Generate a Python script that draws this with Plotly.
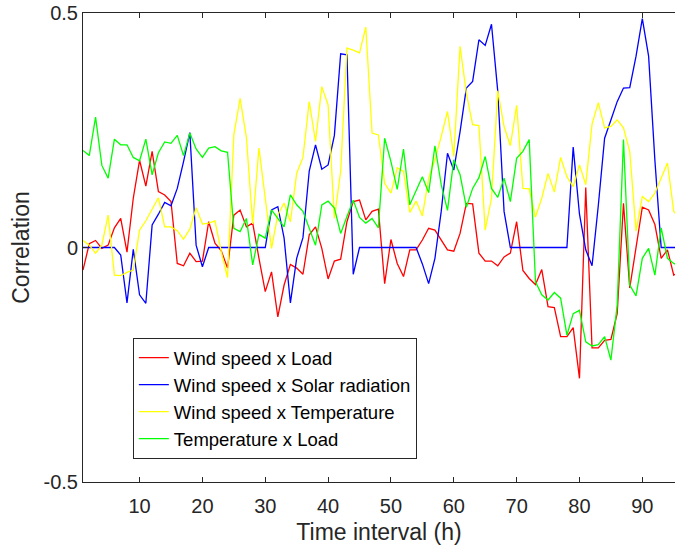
import plotly.graph_objects as go

hours = list(range(1, 97))

wind_load = [
    -0.048, 0.008, 0.015, -0.002, 0.005, 0.042, 0.062, -0.010, 0.105, 0.186,
    0.131, 0.205, 0.119, 0.112, 0.098, -0.034, -0.039, -0.012, -0.030, -0.029,
    0.055, 0.009, -0.007, -0.044, 0.069, 0.080, 0.044, 0.052, -0.023, -0.094,
    -0.052, -0.148, -0.080, -0.036, -0.044, -0.057, 0.027, 0.044, -0.002, -0.067,
    -0.029, -0.025, 0.055, 0.098, 0.101, 0.059, 0.077, 0.082, -0.077, 0.017,
    -0.034, -0.062, -0.005, -0.005, 0.016, 0.041, 0.037, 0.016, -0.005, -0.008,
    0.030, 0.094, 0.093, -0.012, -0.029, -0.029, -0.039, -0.020, -0.012, 0.055,
    -0.049, -0.066, -0.079, -0.047, -0.126, -0.128, -0.190, -0.190, -0.171, -0.279,
    0.128, -0.214, -0.214, -0.198, -0.196, -0.141, 0.094, -0.086, 0.005, 0.086,
    0.080, 0.049, -0.023, -0.005, -0.059, -0.050,
]

wind_solar = [
    0.0, 0.0, 0.0, 0.0, 0.0, 0.0, -0.016, -0.118, -0.004, -0.101,
    -0.119, 0.048, 0.071, 0.096, 0.089, 0.126, 0.183, 0.245, 0.005, -0.041,
    0.0, 0.0, 0.0, 0.0, 0.0, 0.0, 0.0, 0.0, 0.0, 0.0,
    0.080, 0.087, 0.020, -0.118, -0.023, 0.021, 0.163, 0.219, 0.167, 0.176,
    0.239, 0.413, 0.411, -0.057, 0.0, 0.0, 0.0, 0.0, 0.0, 0.0,
    0.0, 0.0, 0.0, 0.0, -0.035, -0.077, -0.023, 0.077, 0.201, 0.165,
    0.247, 0.340, 0.354, 0.443, 0.431, 0.476, 0.333, 0.077, 0.0, 0.0,
    0.0, 0.0, 0.0, 0.0, 0.0, 0.0, 0.0, 0.0, 0.214, 0.071,
    -0.005, -0.039, 0.090, 0.233, 0.272, 0.311, 0.340, 0.341, 0.408, 0.488,
    0.408, 0.186, 0.0, 0.0, 0.0, 0.0,
]

wind_temp = [
    0.015, 0.005, -0.012, 0.005, 0.069, -0.059, -0.060, -0.053, -0.048, 0.037,
    0.057, 0.082, 0.106, 0.044, 0.044, 0.036, 0.018, 0.039, 0.085, 0.050,
    0.052, 0.057, -0.009, -0.064, 0.240, 0.318, 0.235, 0.050, 0.212, 0.105,
    -0.002, 0.070, 0.095, 0.055, 0.158, 0.192, 0.311, 0.226, 0.343, 0.304,
    0.062, 0.162, 0.425, 0.421, 0.415, 0.470, 0.244, 0.240, 0.137, 0.116,
    0.170, 0.162, 0.075, 0.099, 0.067, 0.148, 0.187, 0.237, 0.290, 0.194,
    0.429, 0.329, 0.262, 0.260, 0.037, 0.105, 0.334, 0.258, 0.217, 0.303,
    0.126, 0.125, 0.065, 0.105, 0.158, 0.118, 0.192, 0.151, 0.130, 0.176,
    0.134, 0.263, 0.309, 0.255, 0.258, 0.272, 0.255, 0.205, 0.035, 0.109,
    0.098, 0.116, 0.147, 0.180, 0.077, 0.060,
]

temp_load = [
    0.207, 0.196, 0.278, 0.175, 0.148, 0.231, 0.219, 0.219, 0.192, 0.185,
    0.231, 0.155, 0.202, 0.225, 0.222, 0.239, 0.196, 0.244, 0.210, 0.192,
    0.212, 0.215, 0.206, 0.203, 0.041, 0.034, 0.062, -0.037, 0.028, 0.020,
    0.080, 0.062, 0.044, 0.112, 0.091, 0.077, 0.041, 0.005, 0.091, 0.099,
    0.084, 0.030, 0.066, 0.101, 0.064, 0.052, 0.062, 0.042, 0.233, 0.183,
    0.124, 0.210, 0.091, 0.123, 0.151, 0.117, 0.217, 0.134, 0.079, 0.187,
    0.155, 0.086, 0.126, 0.149, 0.194, 0.126, 0.107, 0.148, 0.098, 0.190,
    0.205, 0.230, -0.073, -0.101, -0.112, -0.096, -0.108, -0.187, -0.141, -0.134,
    -0.201, -0.210, -0.207, -0.190, -0.240, -0.123, 0.230, -0.080, -0.103, -0.023,
    -0.002, -0.059, 0.042, -0.023, -0.034, -0.040,
]

series_names = [
    "Wind speed x Load",
    "Wind speed x Solar radiation",
    "Wind speed x Temperature",
    "Temperature x Load",
]
series_values = [wind_load, wind_solar, wind_temp, temp_load]
series_colors = ["#ff0000", "#0000ff", "#ffff00", "#00ff00"]

x_ticks = [10, 20, 30, 40, 50, 60, 70, 80, 90]
y_ticks = [-0.5, 0, 0.5]
y_tick_labels = ["-0.5", "0", "0.5"]

fig = go.Figure()
for name, vals, col in zip(series_names, series_values, series_colors):
    fig.add_trace(go.Scatter(x=hours, y=vals, mode="lines", name=name,
                             line=dict(color=col, width=1.3)))

axis_col = "#262626"
fig.update_layout(
    width=675, height=548,
    margin=dict(l=83, r=0, t=13, b=66),
    paper_bgcolor="white", plot_bgcolor="white",
    font=dict(family="Liberation Sans, Arial, sans-serif", color=axis_col),
    showlegend=True,
    legend=dict(
        x=0.0842, y=0.307, xanchor="left", yanchor="top",
        bgcolor="white", bordercolor=axis_col, borderwidth=1,
        font=dict(size=18.5, color="black"),
        itemwidth=30, tracegroupgap=0,
    ),
    xaxis=dict(
        range=[1, 95.2], tickvals=x_ticks, ticks="inside", ticklen=5,
        tickcolor=axis_col, showline=True, linecolor=axis_col, linewidth=1,
        mirror="ticks", showgrid=False, zeroline=False,
        tickfont=dict(size=20, color=axis_col), ticklabelstandoff=6,
        title=dict(text="Time interval (h)", font=dict(size=23, color=axis_col), standoff=7),
    ),
    yaxis=dict(
        range=[-0.5, 0.5], tickvals=y_ticks, ticktext=y_tick_labels,
        ticks="inside", ticklen=5, tickcolor=axis_col, showline=True,
        linecolor=axis_col, linewidth=1, mirror=False, showgrid=False,
        zeroline=False, tickfont=dict(size=20, color=axis_col),
        title=dict(text="Correlation", font=dict(size=23, color=axis_col), standoff=7),
    ),
)

fig.write_html("out.html")
